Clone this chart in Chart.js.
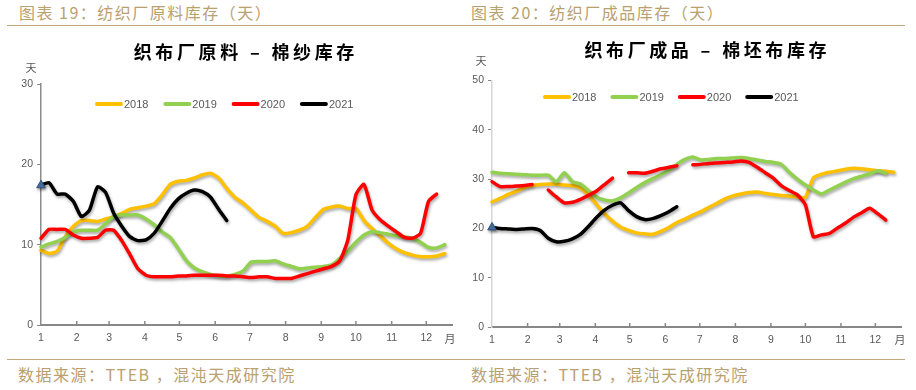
<!DOCTYPE html>
<html>
<head>
<meta charset="utf-8">
<script src="https://cdn.jsdelivr.net/npm/chart.js@4.4.1/dist/chart.umd.min.js"></script>
<style>
  html, body { margin: 0; padding: 0; background: #fff; }
  body { width: 916px; height: 390px; position: relative; overflow: hidden; font-family: "Noto Sans CJK SC", "Noto Sans", sans-serif; }
  .cap { position: absolute; color: #b9a06f; font-size: 16px; letter-spacing: 1.5px; white-space: nowrap; line-height: 20px; }
  .rule { position: absolute; left: 7px; width: 898px; height: 1px; background: #c2a878; }
  .box { position: absolute; top: 30px; width: 458px; height: 325px; }
</style>
</head>
<body>
<div class="cap" style="left:19px;top:2px">图表 19：纺织厂原料库存（天）</div>
<div class="cap" style="left:471px;top:2px">图表 20：纺织厂成品库存（天）</div>
<div class="rule" style="top:25px"></div>
<div class="rule" style="top:359px"></div>
<div class="cap" style="left:18px;top:364px">数据来源：TTEB ，混沌天成研究院</div>
<div class="cap" style="left:471px;top:364px">数据来源：TTEB ，混沌天成研究院</div>
<div class="box" style="left:0"><canvas id="yarn"></canvas></div>
<div class="box" style="left:458px"><canvas id="greige"></canvas></div>

<script>
// x axis is in weeks since 1 Jan; month ticks sit on the first week of each month
const monthWeeks = [0, 4.43, 8.43, 12.86, 17.14, 21.57, 25.86, 30.29, 34.71, 39, 43.43, 47.71];
const monthLabels = ["1", "2", "3", "4", "5", "6", "7", "8", "9", "10", "11", "12"];
const years = ["2018", "2019", "2020", "2021"];
const lineColors = ["#FFC000", "#92D050", "#FF0000", "#000000"];

/* ===== 织布厂原料 - 棉纱库存 (weekly, days) ===== */
const yarn2018 = [9.3, 8.9, 9.2, 11.0, 12.3, 13.0, 13.0, 12.9, 13.2, 13.5, 13.9, 14.4, 14.6, 14.8, 15.1, 16.2, 17.5, 17.9, 18.0, 18.3,
  18.7, 18.9, 18.3, 17.0, 15.9, 15.2, 14.3, 13.4, 12.9, 12.3, 11.4, 11.5, 11.8, 12.3, 13.4, 14.4, 14.7, 14.8, 14.5, 14.5,
  13.0, 12.0, 11.1, 10.2, 9.5, 9.0, 8.7, 8.5, 8.5, 8.6, 8.9];
const yarn2019 = [9.7, 10.1, 10.4, 10.9, 11.6, 11.8, 11.8, 11.8, 12.6, 13.5, 13.7, 13.7, 13.7, 13.2, 12.5, 11.6, 10.9, 9.5, 8.0, 7.1,
  6.6, 6.3, 6.1, 6.1, 6.3, 6.7, 7.8, 7.9, 7.9, 8.0, 7.6, 7.3, 7.0, 7.1, 7.2, 7.3, 7.5, 8.3, 9.2, 10.3,
  11.2, 11.6, 11.5, 11.3, 11.1, 10.95, 10.8, 10.3, 9.65, 9.6, 10.0];
const yarn2020 = [10.8, 11.9, 11.9, 11.9, 11.2, 10.8, 10.8, 10.9, 11.8, 11.8, 10.5, 8.8, 7.0, 6.2, 6.0, 6.0, 6.0, 6.1, 6.1, 6.2,
  6.2, 6.2, 6.2, 6.1, 6.1, 6.0, 5.9, 6.0, 6.0, 5.8, 5.8, 5.8, 6.1, 6.4, 6.7, 7.0, 7.3, 8.0, 10.6, 16.2,
  17.5, 14.3, 13.1, 12.3, 11.6, 10.9, 10.8, 11.4, 15.4, 16.3];
const yarn2021 = [17.4, 17.7, 16.3, 16.3, 15.4, 13.5, 14.3, 17.2, 16.5, 13.9, 12.3, 11.0, 10.5, 10.6, 11.4, 12.9, 14.5, 15.7, 16.4, 16.8,
  16.6, 15.9, 14.4, 13.0];

/* ===== 织布厂成品 - 棉坯布库存 (weekly, days) ===== */
const greige2018 = [25.4, 26.1, 26.9, 27.5, 28.3, 28.7, 28.9, 29.0, 29.0, 28.8, 28.7, 28.2, 26.8, 24.9, 23.0, 21.5, 20.3, 19.6, 19.1, 18.9,
  18.8, 19.4, 20.2, 21.2, 21.9, 22.7, 23.4, 24.3, 25.1, 26.0, 26.6, 27.0, 27.3, 27.4, 27.1, 26.9, 26.7, 26.6, 26.4, 26.3,
  30.3, 31.0, 31.4, 31.7, 32.0, 32.2, 32.1, 31.9, 31.7, 31.6, 31.4];
const greige2019 = [31.4, 31.2, 31.1, 31.0, 30.9, 30.8, 30.8, 30.8, 29.5, 31.3, 29.5, 29.0, 27.7, 26.4, 25.8, 25.6, 26.2, 27.2, 28.3, 29.3,
  30.1, 30.9, 31.8, 33.0, 34.0, 34.5, 33.9, 34.0, 34.2, 34.2, 34.3, 34.4, 34.2, 33.9, 33.6, 33.4, 33.0, 31.4, 30.0, 28.8,
  27.8, 27.0, 27.8, 28.6, 29.4, 30.1, 30.6, 31.1, 31.7, 31.2];
const greige2020 = [29.5, 28.5, 28.5, 28.6, 28.7, 28.9, null, 27.8, 26.4, 25.2, 25.3, 25.9, 26.7, 27.6, 28.9, 30.2, null, 31.3, 31.3, 31.2,
  31.6, 32.1, 32.4, 32.7, null, 32.9, 33.0, 33.2, 33.3, 33.4, 33.5, 33.7, 33.4, 32.4, 31.3, 30.2, 28.7, 27.7, 26.8, 24.8,
  18.3, 18.7, 19.0, 20.1, 21.1, 22.3, 23.2, 24.1, 23.0, 21.7];
const greige2021 = [20.2, 20.0, 19.9, 19.8, 19.9, 20.0, 19.6, 18.0, 17.3, 17.4, 17.9, 18.8, 20.4, 22.2, 23.7, 24.7, 25.2, 23.6, 22.4, 21.8,
  22.0, 22.6, 23.4, 24.4];

Chart.defaults.font.family = '"Liberation Sans", "Noto Sans CJK SC", sans-serif';
Chart.defaults.color = "#595959";

/* ================= PLUGINS ================= */
// soft drop shadow under the lines, like the Excel original
const lineShadow = {
    id: "lineShadow",
    beforeDatasetsDraw(chart) {
        const c = chart.ctx;
        c.save();
        c.shadowColor = "rgba(0,0,0,0.35)";
        c.shadowBlur = 3;
        c.shadowOffsetX = 1;
        c.shadowOffsetY = 2;
    },
    afterDatasetsDraw(chart) {
        chart.ctx.restore();
    }
};

// one-row legend inside the plot, title shift, inner x ticks, unit labels
const deco = {
    id: "deco",
    afterLayout(chart, args, o) {
        const tb = chart.titleBlock;
        if (tb) {
            tb.left += o.titleDx;
            tb.right += o.titleDx;
        }
    },
    afterDraw(chart, args, o) {
        const { ctx, chartArea: a, scales: { x } } = chart;
        ctx.save();
        ctx.strokeStyle = "#878787";
        ctx.lineWidth = 1.5;
        x.ticks.forEach((t, i) => {
            if (i === 0) return;
            const px = x.getPixelForValue(t.value);
            ctx.beginPath();
            ctx.moveTo(px, a.bottom);
            ctx.lineTo(px, a.bottom - 4);
            ctx.stroke();
        });

        ctx.fillStyle = "#595959";
        ctx.font = '11px "Noto Sans CJK SC"';
        ctx.textAlign = "center";
        ctx.textBaseline = "middle";
        ctx.fillText("天", a.left + o.unitDx, a.top + o.unitDy);
        ctx.fillText("月", a.right + o.monthDx, a.bottom + o.monthDy);

        // legend
        ctx.font = '11px "Liberation Sans"';
        ctx.textAlign = "left";
        ctx.lineCap = "round";
        ctx.lineWidth = 4;
        chart.data.datasets.forEach((d, i) => {
            const lx = o.legendX + i * o.legendStep;
            ctx.strokeStyle = d.borderColor;
            ctx.beginPath();
            ctx.moveTo(lx + 2, o.legendY);
            ctx.lineTo(lx + 26, o.legendY);
            ctx.stroke();
            ctx.fillText(d.label, lx + 29, o.legendY + 0.5);
        });
        ctx.restore();
    }
};

/* ================= CHARTS ================= */
function makeSets(series) {
    return series.map((vals, i) => ({
        label: years[i],
        data: vals.map((v, w) => ({ x: w, y: v })),
        borderColor: lineColors[i],
        backgroundColor: lineColors[i],
        borderWidth: 3.5,
        tension: 0.2,
        borderCapStyle: "round",
        borderJoinStyle: "round",
        clip: false,
        order: 3 - i,
        pointStyle: "triangle",
        pointRadius: c => (i === 3 && c.dataIndex === 0) ? 5 : 0,
        pointBackgroundColor: "#4a74a8",
        pointBorderColor: "#30527e",
        pointBorderWidth: 1,
        pointHoverRadius: 0
    }));
}

function drawChart(id, cfg) {
    return new Chart(document.getElementById(id), {
        type: "line",
        data: { datasets: makeSets(cfg.series) },
        options: {
            responsive: true,
            maintainAspectRatio: false,
            animation: false,
            events: [],
            layout: { padding: { left: 0, right: cfg.padRight, top: 0, bottom: 0 } },
            plugins: {
                title: {
                    display: true,
                    text: cfg.title,
                    color: "#000",
                    font: { size: 18, weight: "bold", family: '"Noto Sans CJK SC"', lineHeight: 1.2 },
                    padding: cfg.titlePad
                },
                legend: { display: false },
                tooltip: { enabled: false },
                deco: cfg.deco
            },
            scales: {
                x: {
                    type: "linear",
                    min: 0,
                    max: 50.9,
                    afterBuildTicks: s => { s.ticks = monthWeeks.map(v => ({ value: v })); },
                    afterFit: s => { s.height = cfg.xHeight; },
                    ticks: {
                        autoSkip: false,
                        maxRotation: 0,
                        padding: 7,
                        font: { size: 10.5 },
                        callback: (v, i) => monthLabels[i]
                    },
                    grid: { display: true, drawOnChartArea: false, drawTicks: false },
                    border: { color: "#878787", width: 2 }
                },
                y: {
                    min: 0,
                    max: cfg.yMax,
                    afterFit: s => { s.width = cfg.yWidth; },
                    ticks: { stepSize: 10, padding: 4, font: { size: 10.5 } },
                    grid: { drawOnChartArea: false, tickLength: 4, tickColor: "#878787", tickWidth: 1 },
                    border: { color: cfg.yAxisColor, width: 1.5 }
                }
            }
        },
        plugins: [lineShadow, deco]
    });
}

drawChart("yarn", {
    series: [yarn2018, yarn2019, yarn2020, yarn2021],
    title: "织\u2009布\u2009厂\u2009原\u2009料\u2009  –  \u2009棉\u2009纱\u2009库\u2009存",
    titlePad: { top: 11, bottom: 21.4 },
    padRight: 4,
    xHeight: 30,
    yWidth: 41,
    yMax: 30,
    yAxisColor: "#8c8c8c",
    deco: { legendX: 95, legendY: 74, legendStep: 68.3, titleDx: 17, unitDx: -10, unitDy: -16, monthDx: -2, monthDy: 14 }
});

drawChart("greige", {
    series: [greige2018, greige2019, greige2020, greige2021],
    title: "织\u2009布\u2009厂\u2009成\u2009品\u2009  –  \u2009棉\u2009坯\u2009布\u2009库\u2009存",
    titlePad: { top: 9, bottom: 20 },
    padRight: 15,
    xHeight: 28,
    yWidth: 34,
    yMax: 50,
    yAxisColor: "#d6d6d6",
    deco: { legendX: 85, legendY: 67, legendStep: 67.4, titleDx: 26, unitDx: -11, unitDy: -20, monthDx: -1, monthDy: 13 }
});
</script>
</body>
</html>
